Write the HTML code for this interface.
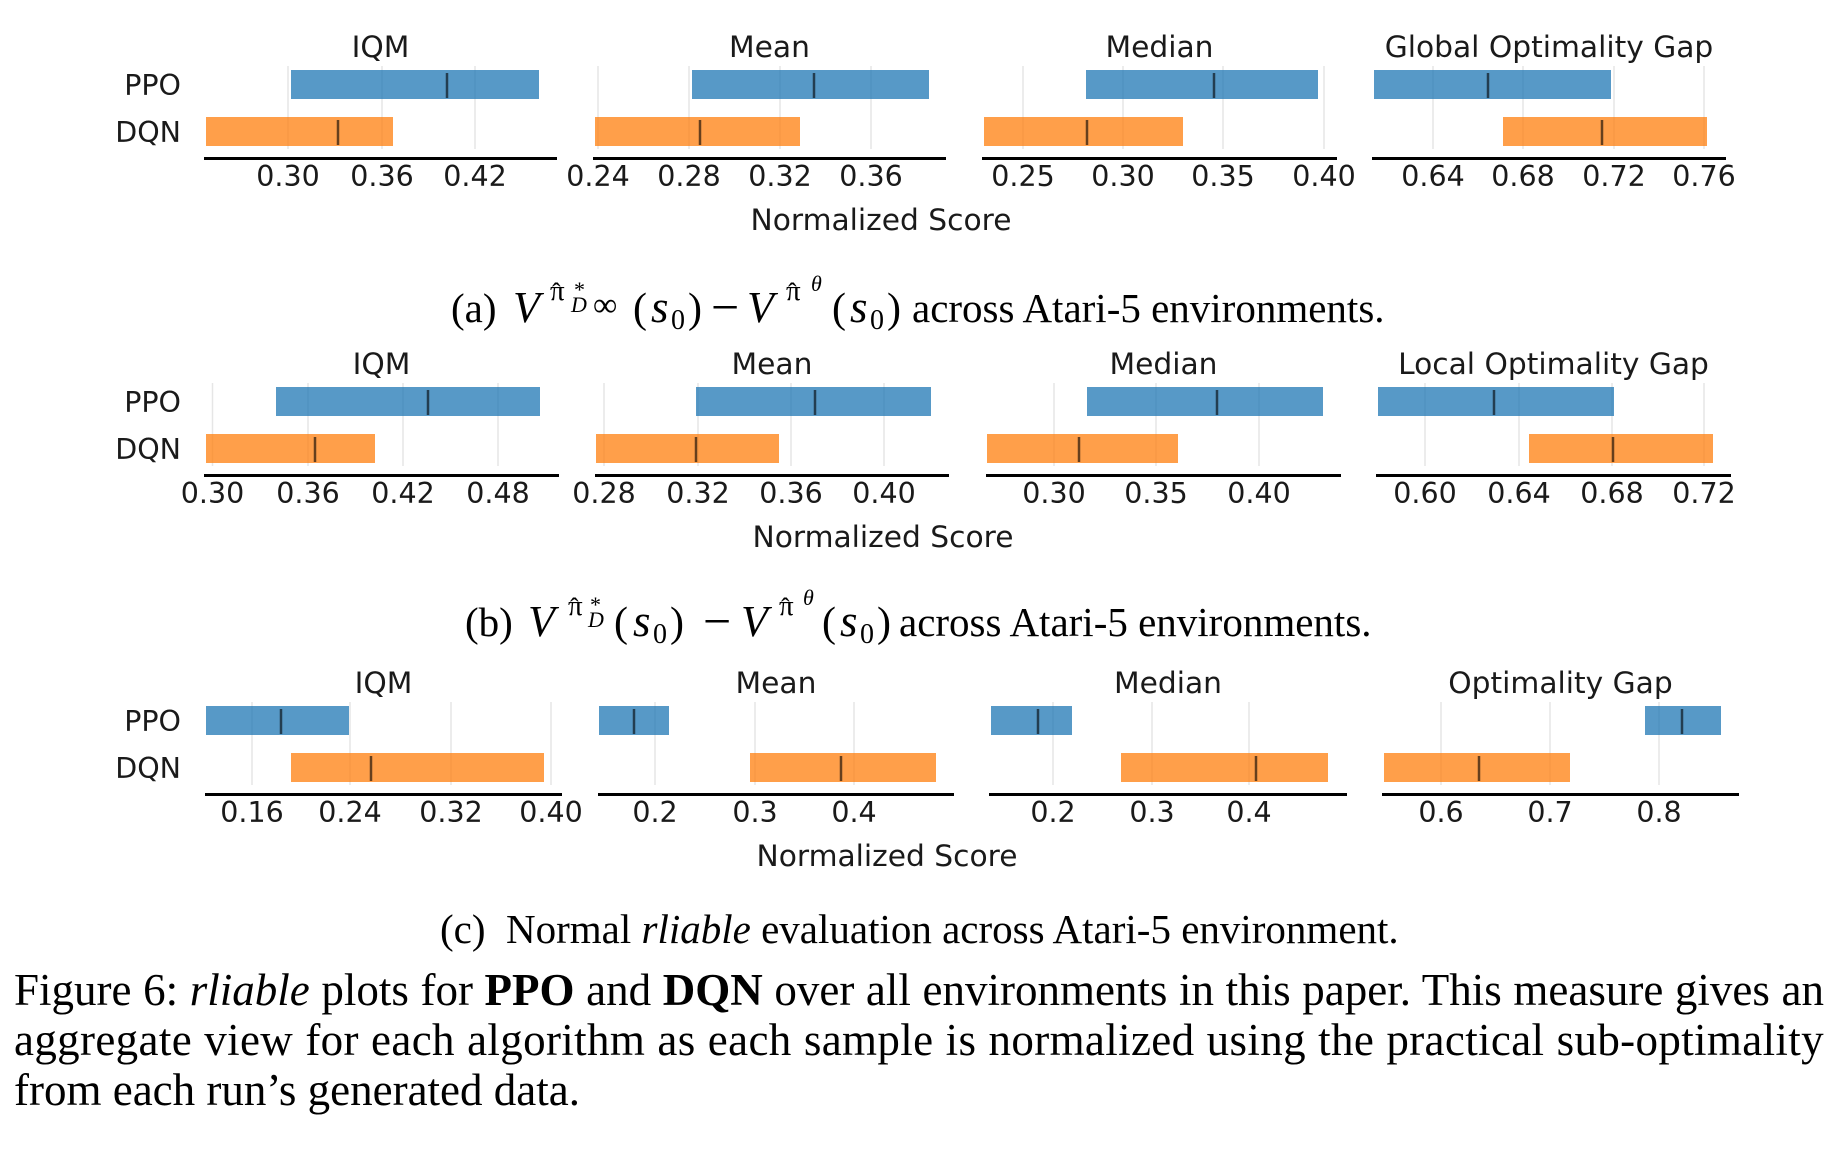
<!DOCTYPE html>
<html>
<head>
<meta charset="utf-8">
<style>
  html, body { margin:0; padding:0; background:#fff; }
  body { width:1836px; height:1153px; position:relative; overflow:hidden; }
  svg { position:absolute; left:0; top:0; }
  .cap { position:absolute; left:14px; width:1810px; font-family:"Liberation Serif", serif; font-size:45px; line-height:50px; color:#000; white-space:nowrap; }
  .j { text-align:justify; text-align-last:justify; }
</style>
</head>
<body>
<svg width="1836" height="1153" viewBox="0 0 1836 1153" xmlns="http://www.w3.org/2000/svg">
  <defs>
    <style>
      .t { font-family:"DejaVu Sans", sans-serif; font-size:28.5px; fill:#1a1a1a; }
      .tt { font-family:"DejaVu Sans", sans-serif; font-size:29.7px; fill:#1a1a1a; }
      .g { stroke:#e6e6e6; stroke-width:1.5; }
      .ppo { fill:rgba(31,119,180,0.75); }
      .dqn { fill:rgba(255,127,14,0.75); }
      .med { stroke:rgba(0,0,0,0.6); stroke-width:2.5; }
      .s { font-family:"Liberation Serif", serif; fill:#000; }
      .i { font-style:italic; }
    </style>
  </defs>

  <!-- ============ ROW A ============ -->
  <g>
    <g class="g">
      <line x1="288" y1="66" x2="288" y2="149"/><line x1="382" y1="66" x2="382" y2="149"/><line x1="475" y1="66" x2="475" y2="149"/>
      <line x1="598" y1="66" x2="598" y2="149"/><line x1="689" y1="66" x2="689" y2="149"/><line x1="780" y1="66" x2="780" y2="149"/><line x1="871" y1="66" x2="871" y2="149"/>
      <line x1="1023" y1="66" x2="1023" y2="149"/><line x1="1123" y1="66" x2="1123" y2="149"/><line x1="1223" y1="66" x2="1223" y2="149"/><line x1="1324" y1="66" x2="1324" y2="149"/>
      <line x1="1433" y1="66" x2="1433" y2="149"/><line x1="1523" y1="66" x2="1523" y2="149"/><line x1="1614" y1="66" x2="1614" y2="149"/><line x1="1704" y1="66" x2="1704" y2="149"/>
    </g>
    <rect class="ppo" x="291" y="70" width="248" height="29"/>
    <rect class="dqn" x="206" y="117" width="187" height="29"/>
    <rect class="ppo" x="692" y="70" width="237" height="29"/>
    <rect class="dqn" x="595" y="117" width="205" height="29"/>
    <rect class="ppo" x="1086" y="70" width="232" height="29"/>
    <rect class="dqn" x="984" y="117" width="199" height="29"/>
    <rect class="ppo" x="1374" y="70" width="237" height="29"/>
    <rect class="dqn" x="1503" y="117" width="204" height="29"/>
    <g class="med">
      <line x1="447" y1="73" x2="447" y2="98"/><line x1="338" y1="120" x2="338" y2="145"/>
      <line x1="814" y1="73" x2="814" y2="98"/><line x1="700" y1="120" x2="700" y2="145"/>
      <line x1="1214" y1="73" x2="1214" y2="98"/><line x1="1087" y1="120" x2="1087" y2="145"/>
      <line x1="1488" y1="73" x2="1488" y2="98"/><line x1="1602" y1="120" x2="1602" y2="145"/>
    </g>
    <rect x="204" y="157" width="353" height="3" fill="#000"/>
    <rect x="593" y="157" width="353" height="3" fill="#000"/>
    <rect x="982" y="157" width="355" height="3" fill="#000"/>
    <rect x="1372" y="157" width="354" height="3" fill="#000"/>
    <text class="tt" x="380.5" y="57" text-anchor="middle">IQM</text>
    <text class="tt" x="769.5" y="57" text-anchor="middle">Mean</text>
    <text class="tt" x="1159.5" y="57" text-anchor="middle">Median</text>
    <text class="tt" x="1549" y="57" text-anchor="middle">Global Optimality Gap</text>
    <text class="t" x="181" y="95" text-anchor="end">PPO</text>
    <text class="t" x="181" y="142" text-anchor="end">DQN</text>
    <g class="t" text-anchor="middle">
      <text x="288" y="186">0.30</text><text x="382" y="186">0.36</text><text x="475" y="186">0.42</text>
      <text x="598" y="186">0.24</text><text x="689" y="186">0.28</text><text x="780" y="186">0.32</text><text x="871" y="186">0.36</text>
      <text x="1023" y="186">0.25</text><text x="1123" y="186">0.30</text><text x="1223" y="186">0.35</text><text x="1324" y="186">0.40</text>
      <text x="1433" y="186">0.64</text><text x="1523" y="186">0.68</text><text x="1614" y="186">0.72</text><text x="1704" y="186">0.76</text>
    </g>
    <text class="tt" x="881" y="230" text-anchor="middle">Normalized Score</text>
  </g>

  <!-- caption (a) -->
  <g class="s">
    <text x="451" y="322" font-size="41">(a)</text>
    <text x="513" y="322" font-size="44" class="i">V</text>
    <text x="550" y="300" font-size="29">π</text>
    <text x="552" y="301" font-size="26">ˆ</text>
    <text x="574" y="297" font-size="22">*</text>
    <text x="571" y="312" font-size="22" class="i">D</text>
    <text x="593" y="316" font-size="34">∞</text>
    <text x="633" y="322" font-size="42">(</text>
    <text x="651" y="322" font-size="45" class="i">s</text>
    <text x="671" y="329" font-size="28">0</text>
    <text x="688" y="322" font-size="42">)</text>
    <text x="711" y="324" font-size="50">−</text>
    <text x="747" y="322" font-size="44" class="i">V</text>
    <text x="786" y="300" font-size="29">π</text>
    <text x="788" y="301" font-size="26">ˆ</text>
    <text x="811" y="291" font-size="22" class="i">θ</text>
    <text x="832" y="322" font-size="42">(</text>
    <text x="850" y="322" font-size="45" class="i">s</text>
    <text x="870" y="329" font-size="28">0</text>
    <text x="887" y="322" font-size="42">)</text>
    <text x="912" y="322" font-size="41">across Atari-5 environments.</text>
  </g>

  <!-- ============ ROW B ============ -->
  <g transform="translate(0,317)">
    <g class="g">
      <line x1="212.5" y1="66" x2="212.5" y2="149"/><line x1="308" y1="66" x2="308" y2="149"/><line x1="403" y1="66" x2="403" y2="149"/><line x1="498" y1="66" x2="498" y2="149"/>
      <line x1="604" y1="66" x2="604" y2="149"/><line x1="698" y1="66" x2="698" y2="149"/><line x1="791" y1="66" x2="791" y2="149"/><line x1="884" y1="66" x2="884" y2="149"/>
      <line x1="1054" y1="66" x2="1054" y2="149"/><line x1="1156" y1="66" x2="1156" y2="149"/><line x1="1259" y1="66" x2="1259" y2="149"/>
      <line x1="1425" y1="66" x2="1425" y2="149"/><line x1="1519" y1="66" x2="1519" y2="149"/><line x1="1612" y1="66" x2="1612" y2="149"/><line x1="1704" y1="66" x2="1704" y2="149"/>
    </g>
    <rect class="ppo" x="276" y="70" width="264" height="29"/>
    <rect class="dqn" x="206" y="117" width="169" height="29"/>
    <rect class="ppo" x="696" y="70" width="235" height="29"/>
    <rect class="dqn" x="596" y="117" width="183" height="29"/>
    <rect class="ppo" x="1087" y="70" width="236" height="29"/>
    <rect class="dqn" x="987" y="117" width="191" height="29"/>
    <rect class="ppo" x="1378" y="70" width="236" height="29"/>
    <rect class="dqn" x="1529" y="117" width="184" height="29"/>
    <g class="med">
      <line x1="428" y1="73" x2="428" y2="98"/><line x1="315" y1="120" x2="315" y2="145"/>
      <line x1="815" y1="73" x2="815" y2="98"/><line x1="696" y1="120" x2="696" y2="145"/>
      <line x1="1217" y1="73" x2="1217" y2="98"/><line x1="1079" y1="120" x2="1079" y2="145"/>
      <line x1="1494" y1="73" x2="1494" y2="98"/><line x1="1613" y1="120" x2="1613" y2="145"/>
    </g>
    <rect x="204" y="157" width="355" height="3" fill="#000"/>
    <rect x="595" y="157" width="354" height="3" fill="#000"/>
    <rect x="986" y="157" width="355" height="3" fill="#000"/>
    <rect x="1376" y="157" width="355" height="3" fill="#000"/>
    <text class="tt" x="381.5" y="57" text-anchor="middle">IQM</text>
    <text class="tt" x="772" y="57" text-anchor="middle">Mean</text>
    <text class="tt" x="1163.5" y="57" text-anchor="middle">Median</text>
    <text class="tt" x="1553.5" y="57" text-anchor="middle">Local Optimality Gap</text>
    <text class="t" x="181" y="95" text-anchor="end">PPO</text>
    <text class="t" x="181" y="142" text-anchor="end">DQN</text>
    <g class="t" text-anchor="middle">
      <text x="212.5" y="186">0.30</text><text x="308" y="186">0.36</text><text x="403" y="186">0.42</text><text x="498" y="186">0.48</text>
      <text x="604" y="186">0.28</text><text x="698" y="186">0.32</text><text x="791" y="186">0.36</text><text x="884" y="186">0.40</text>
      <text x="1054" y="186">0.30</text><text x="1156" y="186">0.35</text><text x="1259" y="186">0.40</text>
      <text x="1425" y="186">0.60</text><text x="1519" y="186">0.64</text><text x="1612" y="186">0.68</text><text x="1704" y="186">0.72</text>
    </g>
    <text class="tt" x="883" y="230" text-anchor="middle">Normalized Score</text>
  </g>

  <!-- caption (b) -->
  <g class="s">
    <text x="465" y="636" font-size="41">(b)</text>
    <text x="528" y="636" font-size="44" class="i">V</text>
    <text x="568" y="615" font-size="29">π</text>
    <text x="570" y="616" font-size="26">ˆ</text>
    <text x="590" y="612" font-size="22">*</text>
    <text x="588" y="627" font-size="22" class="i">D</text>
    <text x="614" y="636" font-size="42">(</text>
    <text x="633" y="636" font-size="45" class="i">s</text>
    <text x="653" y="643" font-size="28">0</text>
    <text x="670" y="636" font-size="42">)</text>
    <text x="703" y="638" font-size="50">−</text>
    <text x="741" y="636" font-size="44" class="i">V</text>
    <text x="779" y="615" font-size="29">π</text>
    <text x="781" y="616" font-size="26">ˆ</text>
    <text x="803" y="605" font-size="22" class="i">θ</text>
    <text x="822" y="636" font-size="42">(</text>
    <text x="840" y="636" font-size="45" class="i">s</text>
    <text x="860" y="643" font-size="28">0</text>
    <text x="877" y="636" font-size="42">)</text>
    <text x="899" y="636" font-size="41">across Atari-5 environments.</text>
  </g>

  <!-- ============ ROW C ============ -->
  <g transform="translate(0,636)">
    <g class="g">
      <line x1="252" y1="66" x2="252" y2="149"/><line x1="350" y1="66" x2="350" y2="149"/><line x1="451" y1="66" x2="451" y2="149"/><line x1="551" y1="66" x2="551" y2="149"/>
      <line x1="655" y1="66" x2="655" y2="149"/><line x1="755" y1="66" x2="755" y2="149"/><line x1="854" y1="66" x2="854" y2="149"/>
      <line x1="1053" y1="66" x2="1053" y2="149"/><line x1="1152" y1="66" x2="1152" y2="149"/><line x1="1249" y1="66" x2="1249" y2="149"/>
      <line x1="1441" y1="66" x2="1441" y2="149"/><line x1="1550" y1="66" x2="1550" y2="149"/><line x1="1659" y1="66" x2="1659" y2="149"/>
    </g>
    <rect class="ppo" x="206" y="70" width="143" height="29"/>
    <rect class="dqn" x="291" y="117" width="253" height="29"/>
    <rect class="ppo" x="599" y="70" width="70" height="29"/>
    <rect class="dqn" x="750" y="117" width="186" height="29"/>
    <rect class="ppo" x="991" y="70" width="81" height="29"/>
    <rect class="dqn" x="1121" y="117" width="207" height="29"/>
    <rect class="ppo" x="1645" y="70" width="76" height="29"/>
    <rect class="dqn" x="1384" y="117" width="186" height="29"/>
    <g class="med">
      <line x1="281" y1="73" x2="281" y2="98"/><line x1="371" y1="120" x2="371" y2="145"/>
      <line x1="634" y1="73" x2="634" y2="98"/><line x1="841" y1="120" x2="841" y2="145"/>
      <line x1="1038" y1="73" x2="1038" y2="98"/><line x1="1256" y1="120" x2="1256" y2="145"/>
      <line x1="1682" y1="73" x2="1682" y2="98"/><line x1="1479" y1="120" x2="1479" y2="145"/>
    </g>
    <rect x="205" y="157" width="357" height="3" fill="#000"/>
    <rect x="598" y="157" width="356" height="3" fill="#000"/>
    <rect x="989" y="157" width="358" height="3" fill="#000"/>
    <rect x="1382" y="157" width="357" height="3" fill="#000"/>
    <text class="tt" x="383.5" y="57" text-anchor="middle">IQM</text>
    <text class="tt" x="776" y="57" text-anchor="middle">Mean</text>
    <text class="tt" x="1168" y="57" text-anchor="middle">Median</text>
    <text class="tt" x="1560.5" y="57" text-anchor="middle">Optimality Gap</text>
    <text class="t" x="181" y="95" text-anchor="end">PPO</text>
    <text class="t" x="181" y="142" text-anchor="end">DQN</text>
    <g class="t" text-anchor="middle">
      <text x="252" y="186">0.16</text><text x="350" y="186">0.24</text><text x="451" y="186">0.32</text><text x="551" y="186">0.40</text>
      <text x="655" y="186">0.2</text><text x="755" y="186">0.3</text><text x="854" y="186">0.4</text>
      <text x="1053" y="186">0.2</text><text x="1152" y="186">0.3</text><text x="1249" y="186">0.4</text>
      <text x="1441" y="186">0.6</text><text x="1550" y="186">0.7</text><text x="1659" y="186">0.8</text>
    </g>
    <text class="tt" x="887" y="230" text-anchor="middle">Normalized Score</text>
  </g>

  <!-- caption (c) -->
  <g class="s" font-size="41">
    <text x="440" y="943">(c)</text>
    <text x="506" y="943">Normal <tspan font-style="italic">rliable</tspan> evaluation across Atari-5 environment.</text>
  </g>
</svg>

<div class="cap j" style="top:965px;">Figure 6: <i>rliable</i> plots for <b>PPO</b> and <b>DQN</b> over all environments in this paper. This measure gives an</div>
<div class="cap j" style="top:1015px; letter-spacing:0.35px;">aggregate view for each algorithm as each sample is normalized using the practical sub-optimality</div>
<div class="cap" style="top:1065px;">from each run’s generated data.</div>
</body>
</html>
